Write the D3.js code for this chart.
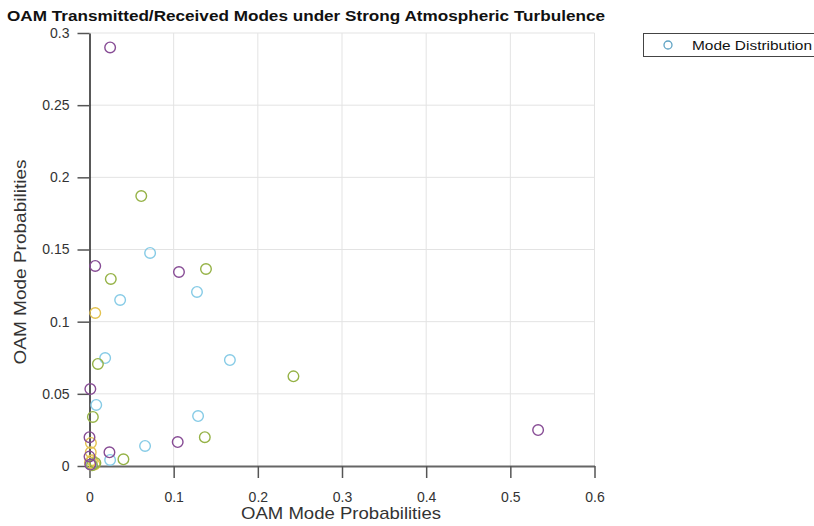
<!DOCTYPE html>
<html>
<head>
<meta charset="utf-8">
<script src="https://cdn.jsdelivr.net/npm/d3@7"></script>
<style>
  html, body { margin: 0; padding: 0; background: #fff; }
  svg { display: block; font-family: "Liberation Sans", Arial, sans-serif; }
</style>
</head>
<body>
<svg id="chart" width="814" height="526"></svg>
<script>
// ---- data ----
const titleText = "OAM Transmitted/Received Modes under Strong Atmospheric Turbulence";
const xLabel = "OAM Mode Probabilities";
const yLabel = "OAM Mode Probabilities";
const legendLabel = "Mode Distribution";
const xTicks = [0, 0.1, 0.2, 0.3, 0.4, 0.5, 0.6];
const yTicks = [0, 0.05, 0.1, 0.15, 0.2, 0.25, 0.3];

const purpleX = [0.0245, 0.0068, 0.1063, 0.0010, 0.0000, 0.1048, 0.0237, 0.5330, 0.0000, 0.0010];
const purpleY = [0.2900, 0.1386, 0.1344, 0.0533, 0.0200, 0.0166, 0.0095, 0.0249, 0.0065, 0.0010];
const greenX  = [0.0615, 0.0253, 0.1384, 0.0100, 0.2423, 0.0040, 0.1370, 0.0403, 0.0070, 0.0030];
const greenY  = [0.1870, 0.1296, 0.1365, 0.0707, 0.0621, 0.0340, 0.0200, 0.0046, 0.0020, 0.0005];
const blueX   = [0.0720, 0.0364, 0.1277, 0.0186, 0.1668, 0.0080, 0.1290, 0.0660, 0.0245, 0.0020];
const blueY   = [0.1476, 0.1150, 0.1206, 0.0748, 0.0734, 0.0423, 0.0346, 0.0139, 0.0042, 0.0010];
const yellowX = [0.0068, 0.0017, 0.0015, 0.0030, 0.0060, 0.0005];
const yellowY = [0.1060, 0.0160, 0.0095, 0.0040, 0.0010, 0.0025];

const seriesColors = { yellow: "#e3c24f", blue: "#86cbe6", green: "#95b246", purple: "#874c95" };

const series = [
  { color: seriesColors.yellow, xs: yellowX, ys: yellowY },
  { color: seriesColors.blue,   xs: blueX,   ys: blueY },
  { color: seriesColors.green,  xs: greenX,  ys: greenY },
  { color: seriesColors.purple, xs: purpleX, ys: purpleY }
];

// ---- layout ----
const svg = d3.select("#chart");
const x = d3.scaleLinear().domain([0, 0.6]).range([89.5, 594.5]);
const y = d3.scaleLinear().domain([0, 0.3]).range([466, 33]);

// grid
const grid = svg.append("g");
grid.selectAll("line.gx").data(xTicks.filter(d => d > 0)).enter().append("line")
  .attr("x1", d => x(d)).attr("x2", d => x(d))
  .attr("y1", y(0)).attr("y2", y(0.3))
  .attr("stroke", "#e3e3e3").attr("stroke-width", 1);
grid.selectAll("line.gy").data(yTicks.filter(d => d > 0)).enter().append("line")
  .attr("x1", x(0)).attr("x2", x(0.6))
  .attr("y1", d => y(d)).attr("y2", d => y(d))
  .attr("stroke", "#e3e3e3").attr("stroke-width", 1);

// axes
const xAxis = d3.axisBottom(x).tickValues(xTicks).tickFormat(d3.format("")).tickSizeInner(12).tickSizeOuter(0).tickPadding(14);
const yAxis = d3.axisLeft(y).tickValues(yTicks).tickFormat(d3.format("")).tickSizeInner(12).tickSizeOuter(0).tickPadding(8);

const gx = svg.append("g").attr("transform", `translate(0,${y(0)})`).call(xAxis);
gx.select(".domain").attr("stroke", "#666").attr("stroke-width", 2);
gx.selectAll(".tick line").attr("stroke", "#555").attr("stroke-width", 1.5);
gx.selectAll(".tick text").attr("fill", "#333").attr("font-size", 14).attr("font-family", "Liberation Sans, Arial, sans-serif");

const gy = svg.append("g").attr("transform", `translate(${x(0)},0)`).call(yAxis);
gy.select(".domain").attr("stroke", "#222").attr("stroke-width", 1.5);
gy.selectAll(".tick line").attr("stroke", "#555").attr("stroke-width", 1.5);
gy.selectAll(".tick text").attr("fill", "#333").attr("font-size", 14).attr("font-family", "Liberation Sans, Arial, sans-serif");

// points
const pts = svg.append("g");
series.forEach(s => {
  const data = s.xs.map((v, i) => [v, s.ys[i]]);
  pts.selectAll(null).data(data).enter().append("circle")
    .attr("cx", d => x(d[0])).attr("cy", d => y(d[1]))
    .attr("r", 5.3)
    .attr("fill", "none")
    .attr("stroke", s.color)
    .attr("stroke-width", 1.4);
});

// title
svg.append("text")
  .attr("x", 7).attr("y", 21)
  .attr("font-size", 15.5).attr("font-weight", "bold").attr("fill", "#111")
  .attr("textLength", 598).attr("lengthAdjust", "spacingAndGlyphs")
  .text(titleText);

// axis labels
svg.append("text")
  .attr("x", 341).attr("y", 519)
  .attr("text-anchor", "middle").attr("font-size", 17).attr("fill", "#333")
  .attr("textLength", 200).attr("lengthAdjust", "spacingAndGlyphs")
  .text(xLabel);
svg.append("text")
  .attr("transform", `translate(26,262) rotate(-90)`)
  .attr("text-anchor", "middle").attr("font-size", 17).attr("fill", "#333")
  .attr("textLength", 205).attr("lengthAdjust", "spacingAndGlyphs")
  .text(yLabel);

// legend
const lg = svg.append("g");
lg.append("rect").attr("x", 643.5).attr("y", 33.5).attr("width", 180).attr("height", 23)
  .attr("fill", "#fff").attr("stroke", "#444").attr("stroke-width", 1);
lg.append("circle").attr("cx", 668).attr("cy", 45).attr("r", 4)
  .attr("fill", "none").attr("stroke", "#5fa3c4").attr("stroke-width", 1.3);
lg.append("text").attr("x", 692).attr("y", 49.5).attr("font-size", 12.5).attr("fill", "#111")
  .attr("textLength", 120).attr("lengthAdjust", "spacingAndGlyphs")
  .text(legendLabel);
</script>
</body>
</html>
